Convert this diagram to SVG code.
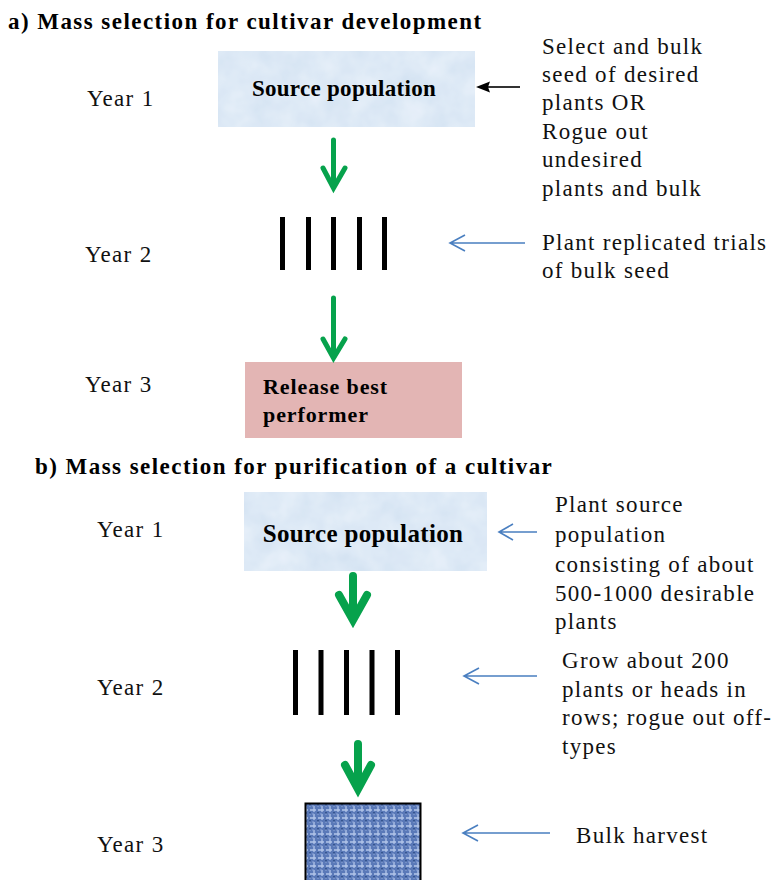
<svg xmlns="http://www.w3.org/2000/svg" width="774" height="880" viewBox="0 0 774 880">
<style>
.t{font-family:"Liberation Serif","Times New Roman",serif;font-size:23px;letter-spacing:1.3px;fill:#111}
.h{font-family:"Liberation Serif","Times New Roman",serif;font-size:23px;font-weight:bold;letter-spacing:1.45px;fill:#000}
.b{font-family:"Liberation Serif","Times New Roman",serif;font-weight:bold;fill:#000}
.bar{fill:#000}
.g{fill:none;stroke:#06a24c;stroke-linecap:round;stroke-linejoin:miter}
.bl{fill:none;stroke:#4a7fc0;stroke-width:1.6}
</style>
<defs>
<filter id="mottle" x="0" y="0" width="100%" height="100%">
<feTurbulence type="fractalNoise" baseFrequency="0.04" numOctaves="3" seed="3" result="n"/>
<feColorMatrix in="n" type="matrix" values="0 0 0 0 0.80  0 0 0 0 0.87  0 0 0 0 0.95  0 0 0 -1.2 1.1" result="c"/>
<feComposite in="c" in2="SourceGraphic" operator="in" result="cc"/>
<feMerge><feMergeNode in="SourceGraphic"/><feMergeNode in="cc"/></feMerge>
</filter>
<pattern id="weave" width="8" height="8" patternUnits="userSpaceOnUse">
<rect width="8" height="8" fill="#5a79b8"/>
<path d="M0 2H8M2 0V8" stroke="#b3c6ea" stroke-width="1.3" stroke-dasharray="4 2"/>
<path d="M0 6H8" stroke="#8ea6d6" stroke-width="1" stroke-dasharray="2 3"/>
<rect x="5" y="4" width="2" height="1.5" fill="#34548f"/>
</pattern>
</defs>

<rect width="774" height="880" fill="#fff"/>

<g id="titles">
<text class="h" x="8" y="29">a) Mass selection for cultivar development</text>
<text class="h" x="35" y="474">b) Mass selection for purification of a cultivar</text>
</g>

<g id="years">
<text class="t" x="87" y="106">Year 1</text>
<text class="t" x="85" y="262">Year 2</text>
<text class="t" x="85" y="392">Year 3</text>
<text class="t" x="97" y="537">Year 1</text>
<text class="t" x="97" y="695">Year 2</text>
<text class="t" x="97" y="852">Year 3</text>
</g>

<g id="a_source">
<rect x="218" y="51" width="257" height="76" fill="#d3e2f2" filter="url(#mottle)"/>
<text class="b" x="344" y="96" font-size="23" letter-spacing="0.3" text-anchor="middle">Source population</text>
</g>

<g id="a_rows">
<rect class="bar" x="280" y="217" width="5" height="53"/>
<rect class="bar" x="306" y="217" width="5" height="53"/>
<rect class="bar" x="331" y="217" width="5" height="53"/>
<rect class="bar" x="357" y="217" width="5" height="53"/>
<rect class="bar" x="382" y="217" width="5" height="53"/>
</g>

<g id="a_release">
<rect x="245" y="362" width="217" height="76" fill="#e3b5b4"/>
<text class="b" x="263" y="394" font-size="22" letter-spacing="0.9">Release best</text>
<text class="b" x="263" y="422" font-size="22" letter-spacing="0.9">performer</text>
</g>

<g id="a_notes">
<text class="t" x="542" y="54">Select and bulk</text>
<text class="t" x="542" y="82">seed of desired</text>
<text class="t" x="542" y="110">plants OR</text>
<text class="t" x="542" y="139">Rogue out</text>
<text class="t" x="542" y="167">undesired</text>
<text class="t" x="542" y="196">plants and bulk</text>
<text class="t" x="542" y="250">Plant replicated trials</text>
<text class="t" x="542" y="278">of bulk seed</text>
</g>

<g id="b_source">
<rect x="244" y="492" width="243" height="79" fill="#d3e2f2" filter="url(#mottle)"/>
<text class="b" x="363" y="542" font-size="25" letter-spacing="0.35" text-anchor="middle">Source population</text>
</g>

<g id="b_rows">
<rect class="bar" x="293" y="650" width="5" height="65"/>
<rect class="bar" x="318.5" y="650" width="5" height="65"/>
<rect class="bar" x="344" y="650" width="5" height="65"/>
<rect class="bar" x="369.5" y="650" width="5" height="65"/>
<rect class="bar" x="395" y="650" width="5" height="65"/>
</g>

<g id="b_bulk">
<rect x="305.5" y="803.5" width="115" height="90" fill="url(#weave)" stroke="#000" stroke-width="2"/>
</g>

<g id="b_notes">
<text class="t" x="555" y="512">Plant source</text>
<text class="t" x="555" y="542">population</text>
<text class="t" x="555" y="572">consisting of about</text>
<text class="t" x="555" y="601">500-1000 desirable</text>
<text class="t" x="555" y="629">plants</text>
<text class="t" x="562" y="668">Grow about 200</text>
<text class="t" x="562" y="697">plants or heads in</text>
<text class="t" x="562" y="725">rows; rogue out off-</text>
<text class="t" x="562" y="754">types</text>
<text class="t" x="576" y="843">Bulk harvest</text>
</g>

<g id="connectors">
<line x1="520" y1="87" x2="488" y2="87" stroke="#000" stroke-width="1.6"/>
<path d="M476 87L490 81.5L488 87L490 92.5Z" fill="#000"/>
<path class="g" stroke-width="5" d="M333.5 140V187M323 168L333.5 188L345 168"/>
<path class="g" stroke-width="5" d="M333.5 298V357M323 339L333.5 358L345 339"/>
<path class="g" stroke-width="8" d="M353 576V618M339 595L353 620L367 595"/>
<path class="g" stroke-width="8" d="M358 744V788M345 765L358 789L371 765"/>
<path class="bl" d="M525 243H450M465 235L450 243L465 251"/>
<path class="bl" d="M537 532H499M513 524L499 532L513 540"/>
<path class="bl" d="M537 676H464M479 668L464 676L479 684"/>
<path class="bl" d="M550 833H463M478 825L463 833L478 841"/>
</g>
</svg>
